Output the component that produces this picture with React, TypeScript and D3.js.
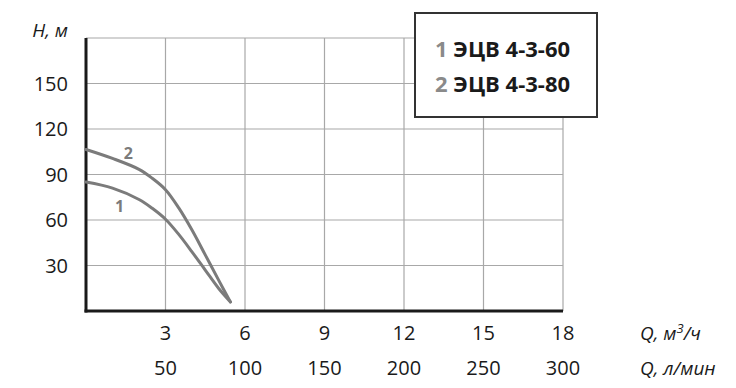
import React from "react";
import * as d3 from "d3";

const yTicks = [30, 60, 90, 120, 150];
const xTicks = [3, 6, 9, 12, 15, 18];
const xTicksLmin = [50, 100, 150, 200, 250, 300];
const legendNames = ["ЭЦВ 4-3-60", "ЭЦВ 4-3-80"];
const curve1Q = [0, 1, 2, 2.5, 3, 3.5, 4, 4.5, 5, 5.45];
const curve1H = [85, 81, 73.5, 67.7, 60.5, 50.5, 39, 27, 15, 6];
const curve2Q = [0, 1, 2, 2.5, 3, 3.5, 4, 4.5, 5, 5.45];
const curve2H = [106.5, 100.6, 93.4, 87.5, 80, 68, 53.4, 37, 20.5, 6];

export default function App() {
  const x = d3.scaleLinear().domain([0, 18]).range([86, 563]);
  const y = d3.scaleLinear().domain([0, 180]).range([311, 38]);
  const line = d3
    .line<[number, number]>()
    .x((d) => x(d[0]))
    .y((d) => y(d[1]))
    .curve(d3.curveCatmullRom.alpha(0.5));
  const c1 = curve1Q.map((q, i) => [q, curve1H[i]] as [number, number]);
  const c2 = curve2Q.map((q, i) => [q, curve2H[i]] as [number, number]);
  const font = "'Open Sans', 'Noto Sans', sans-serif";
  const grid = "#a8a8a8";
  const curveColor = "#7b7b7b";
  return (
    <svg
      width={736}
      height={388}
      style={{ position: "absolute", left: 0, top: 0 }}
      fontFamily={font}
    >
      <rect width={736} height={388} fill="#fff" />
      {/* grid */}
      {[...yTicks, 180].map((t) => (
        <line key={"gy" + t} x1={x(0)} x2={x(18)} y1={y(t)} y2={y(t)} stroke={grid} strokeWidth={1.2} />
      ))}
      {xTicks.map((t) => (
        <line key={"gx" + t} x1={x(t)} x2={x(t)} y1={y(0)} y2={y(180)} stroke={grid} strokeWidth={1.2} />
      ))}
      {/* axes */}
      <line x1={x(0)} x2={x(0)} y1={y(180)} y2={y(0) + 1.5} stroke="#1a1a1a" strokeWidth={3} />
      <line x1={x(0) - 1.5} x2={x(18)} y1={y(0)} y2={y(0)} stroke="#1a1a1a" strokeWidth={3} />
      {/* curves */}
      <path d={line(c1) || ""} fill="none" stroke={curveColor} strokeWidth={3} strokeLinecap="round" />
      <path d={line(c2) || ""} fill="none" stroke={curveColor} strokeWidth={3} strokeLinecap="round" />
      <text x={x(1.6)} y={y(100)} fill={curveColor} fontSize={16} fontWeight="bold" textAnchor="middle">2</text>
      <text x={x(1.27)} y={y(65)} fill={curveColor} fontSize={16} fontWeight="bold" textAnchor="middle">1</text>
      {/* y tick labels */}
      {yTicks.map((t) => (
        <text key={"yl" + t} x={68} y={y(t) + 7} fontSize={20} textAnchor="end" fill="#1a1a1a">{t}</text>
      ))}
      <text x={68} y={37} fontSize={19} fontStyle="italic" textAnchor="end" fill="#1a1a1a">H, м</text>
      {/* x tick labels */}
      {xTicks.map((t) => (
        <text key={"xl" + t} x={x(t)} y={340} fontSize={20} textAnchor="middle" fill="#1a1a1a">{t}</text>
      ))}
      {xTicksLmin.map((t, i) => (
        <text key={"xl2" + t} x={x(xTicks[i])} y={375} fontSize={20} textAnchor="middle" fill="#1a1a1a">{t}</text>
      ))}
      <text x={640} y={340} fontSize={19} fontStyle="italic" fill="#1a1a1a">
        Q, м<tspan dy={-7} fontSize={13}>3</tspan><tspan dy={7}>/ч</tspan>
      </text>
      <text x={640} y={375} fontSize={19} fontStyle="italic" fill="#1a1a1a">Q, л/мин</text>
      {/* legend */}
      <rect x={415} y={13} width={182} height={104} fill="#fff" stroke="#333" strokeWidth={2} />
      {legendNames.map((n, i) => (
        <text key={n} x={435} y={57 + i * 35} fontSize={22} fontWeight="bold" fill="#1a1a1a">
          <tspan fill="#8a8a8a">{i + 1}</tspan> {n}
        </text>
      ))}
    </svg>
  );
}
